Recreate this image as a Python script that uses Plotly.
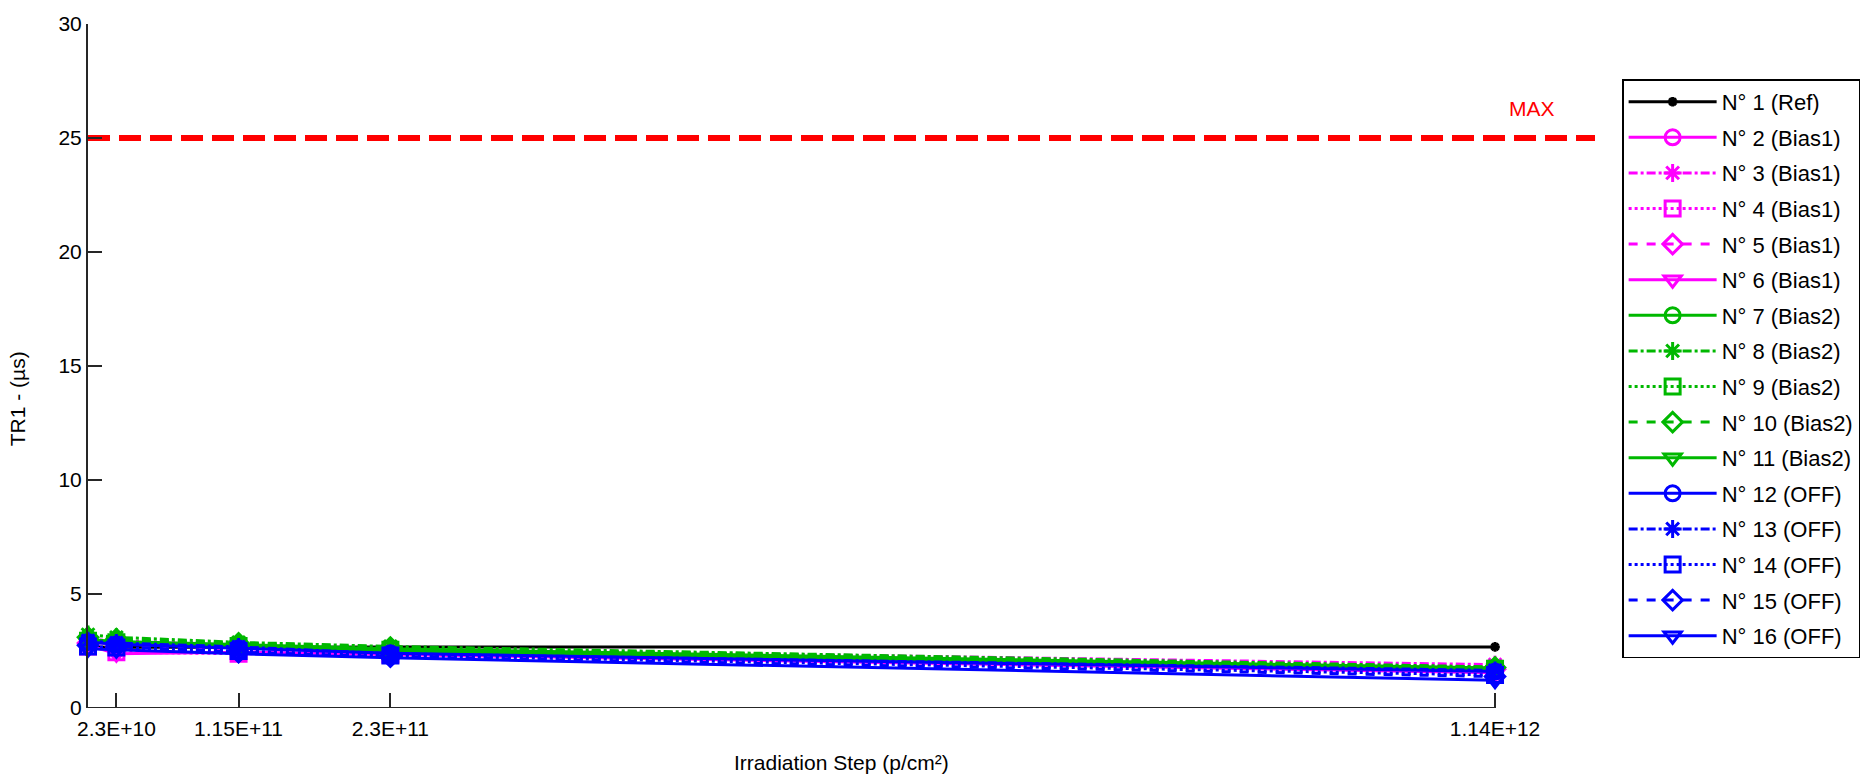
import plotly.graph_objects as go

# Irradiation steps (cumulative fluence, p/cm²) and their nominal labels
fluence = [0, 2.3e10, 1.22e11, 2.45e11, 1.14e12]
tick_vals = [2.3e10, 1.22e11, 2.45e11, 1.14e12]
tick_text = ["2.3E+10", "1.15E+11", "2.3E+11", "1.14E+12"]
x_max = 1.221e12
tr1_max = 25

# TR1 (µs) per device at each irradiation step
tr1_n01 = [2.68, 2.66, 2.66, 2.67, 2.68]
tr1_n02 = [2.90, 2.80, 2.70, 2.50, 1.75]
tr1_n03 = [3.00, 2.95, 2.80, 2.60, 1.90]
tr1_n04 = [2.70, 2.45, 2.38, 2.35, 1.60]
tr1_n05 = [2.85, 2.70, 2.60, 2.45, 1.70]
tr1_n06 = [2.75, 2.38, 2.45, 2.35, 1.55]
tr1_n07 = [3.00, 2.92, 2.78, 2.60, 1.75]
tr1_n08 = [3.22, 3.10, 2.88, 2.70, 1.80]
tr1_n09 = [2.95, 2.88, 2.72, 2.55, 1.72]
tr1_n10 = [3.10, 3.02, 2.84, 2.65, 1.78]
tr1_n11 = [2.90, 2.84, 2.70, 2.50, 1.70]
tr1_n12 = [2.90, 2.80, 2.62, 2.40, 1.60]
tr1_n13 = [2.95, 2.85, 2.68, 2.38, 1.65]
tr1_n14 = [2.70, 2.65, 2.50, 2.30, 1.45]
tr1_n15 = [2.75, 2.70, 2.45, 2.25, 1.38]
tr1_n16 = [2.60, 2.55, 2.38, 2.20, 1.22]

names = [
    "N° 1 (Ref)",
    "N° 2 (Bias1)", "N° 3 (Bias1)", "N° 4 (Bias1)", "N° 5 (Bias1)", "N° 6 (Bias1)",
    "N° 7 (Bias2)", "N° 8 (Bias2)", "N° 9 (Bias2)", "N° 10 (Bias2)", "N° 11 (Bias2)",
    "N° 12 (OFF)", "N° 13 (OFF)", "N° 14 (OFF)", "N° 15 (OFF)", "N° 16 (OFF)",
]
series = [tr1_n01, tr1_n02, tr1_n03, tr1_n04, tr1_n05, tr1_n06, tr1_n07, tr1_n08,
          tr1_n09, tr1_n10, tr1_n11, tr1_n12, tr1_n13, tr1_n14, tr1_n15, tr1_n16]

MAGENTA, GREEN, BLUE = "#ff00ff", "#00b800", "#0000ff"
group_colors = [MAGENTA, GREEN, BLUE]
dashes = ["solid", "dashdot", "dot", "dash", "solid"]
symbols = ["circle-open", "asterisk-open", "square-open", "diamond-open", "triangle-down-open"]

FONT = "Liberation Sans, Arial, sans-serif"
AXIS = "#262626"
LW = 3

fig = go.Figure()

# Reference device
fig.add_trace(go.Scatter(
    x=fluence, y=series[0], name=names[0], mode="lines+markers", legendgroup="g0",
    line=dict(color="black", width=LW),
    marker=dict(symbol="asterisk-open", size=8, line=dict(color="black", width=LW)),
    cliponaxis=False,
))

# Biased / unbiased devices
for i in range(1, 16):
    g, k = divmod(i - 1, 5)
    col = group_colors[g]
    fig.add_trace(go.Scatter(
        x=fluence, y=series[i], name=names[i], mode="lines+markers", legendgroup=f"g{i}",
        line=dict(color=col, width=LW, dash=dashes[k]),
        marker=dict(symbol=symbols[k], size=15, color=col, line=dict(color=col, width=LW)),
        cliponaxis=False,
    ))

# Specification limit
fig.add_trace(go.Scatter(
    x=[0, x_max], y=[tr1_max, tr1_max], mode="lines", showlegend=False,
    line=dict(color="#ff0000", width=6, dash="22px,9px"), hoverinfo="skip",
    cliponaxis=False,
))

fig.add_annotation(x=1.17e12, y=26.3, xref="x", yref="y", text="MAX", showarrow=False,
                   font=dict(color="#ff0000", size=21, family=FONT))

# Bottom axis line ends at the last irradiation step
fig.add_shape(type="line", xref="x", yref="y", x0=0, x1=fluence[-1], y0=0, y1=0,
              line=dict(color=AXIS, width=2), layer="above")

# Axis titles
fig.add_annotation(x=0.5, y=-0.079, xref="paper", yref="paper", showarrow=False,
                   text="Irradiation Step (p/cm²)", yanchor="middle",
                   font=dict(size=21, family=FONT, color="black"))
fig.add_annotation(x=-0.047, y=13.55, xref="paper", yref="y", showarrow=False,
                   text="TR1 - (µs)", textangle=-90, xanchor="center", yanchor="middle",
                   font=dict(size=21, family=FONT, color="black"))

fig.update_xaxes(
    range=[0, x_max], tickvals=tick_vals, ticktext=tick_text,
    showline=False, zeroline=False, showgrid=False,
    ticks="inside", ticklen=15, tickwidth=2, tickcolor=AXIS,
    ticklabelstandoff=6,
    tickfont=dict(size=21, family=FONT, color="black"),
)
fig.update_yaxes(
    range=[0, 30], dtick=5, tick0=0,
    showline=True, linewidth=2, linecolor=AXIS, zeroline=False, showgrid=False,
    ticks="inside", ticklen=14, tickwidth=2, tickcolor=AXIS,
    tickfont=dict(size=21, family=FONT, color="black"),
)

fig.update_layout(
    width=1863, height=778,
    margin=dict(l=88, r=268, t=24, b=70, autoexpand=False),
    paper_bgcolor="white", plot_bgcolor="white",
    font=dict(family=FONT, size=21, color="black"),
    showlegend=True,
    legend=dict(
        x=1.018, y=0.919, xanchor="left", yanchor="top",
        bordercolor="black", borderwidth=1.5, bgcolor="white",
        font=dict(size=22, family=FONT, color="black"),
        itemwidth=88, tracegroupgap=4, traceorder="grouped",
    ),
)

fig.write_html("out.html")
